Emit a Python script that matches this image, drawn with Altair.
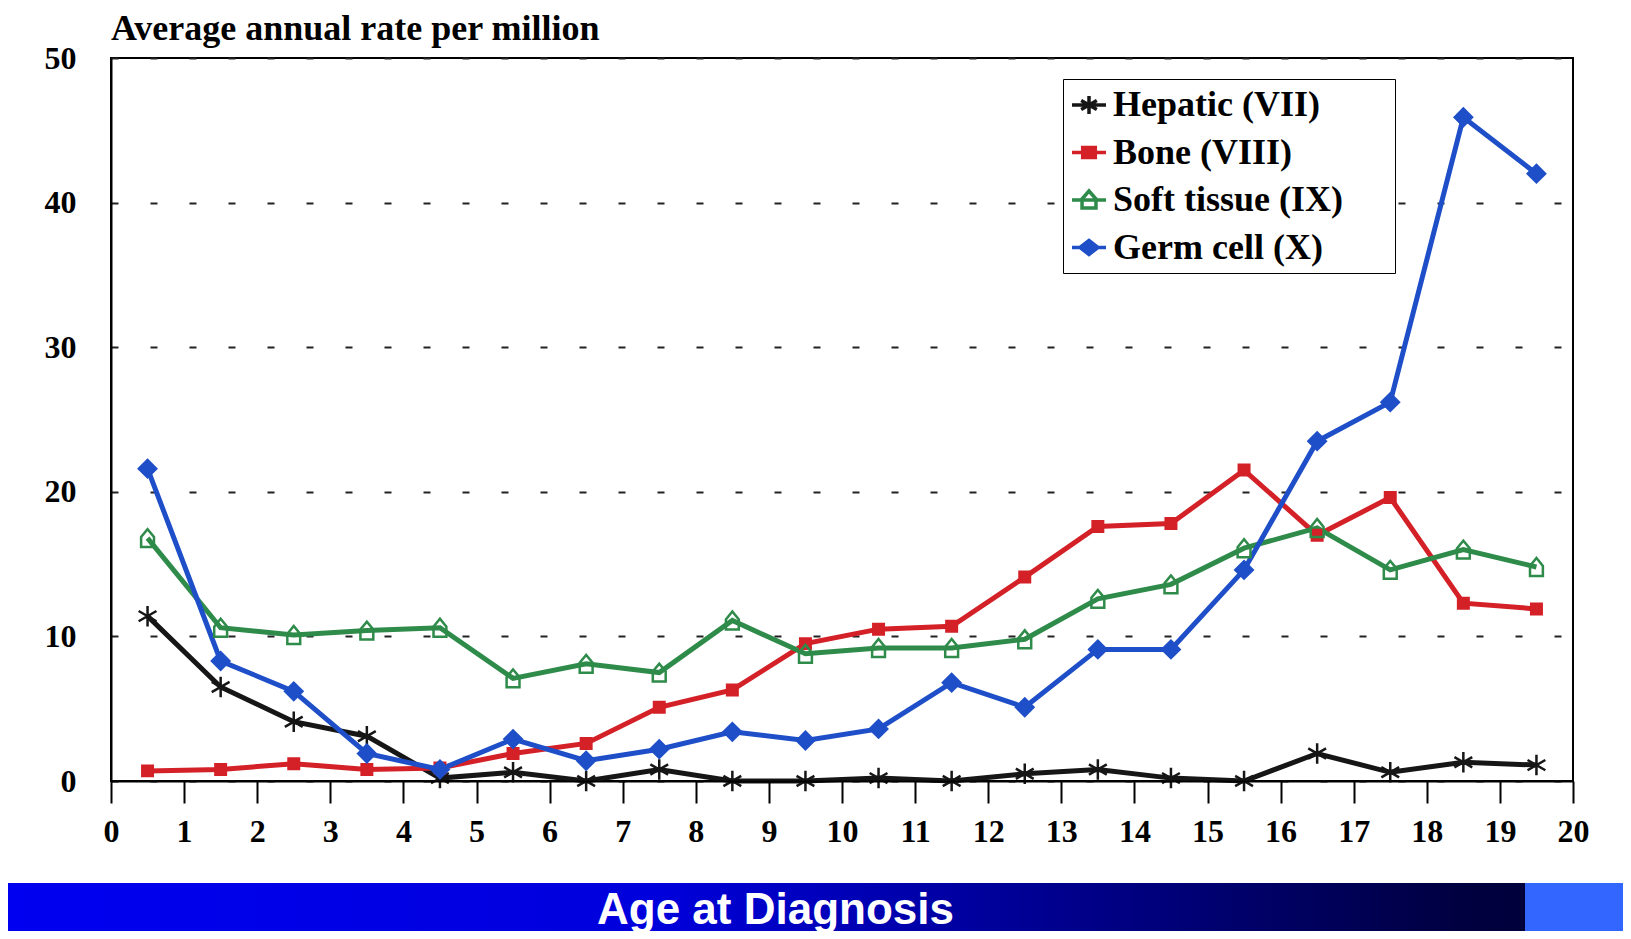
import altair as alt
import pandas as pd

# ---- data ----
ages = [0.5 + i for i in range(20)]
series_names = ["Hepatic (VII)", "Bone (VIII)", "Soft tissue (IX)", "Germ cell (X)"]
hepatic = [11.4, 6.5, 4.1, 3.1, 0.2, 0.6, 0.0, 0.8, 0.0, 0.0, 0.2, 0.0, 0.5, 0.8, 0.2, 0.0, 1.9, 0.6, 1.3, 1.1]
bone = [0.7, 0.8, 1.2, 0.8, 0.9, 1.9, 2.6, 5.1, 6.3, 9.5, 10.5, 10.7, 14.1, 17.6, 17.8, 21.5, 17.0, 19.6, 12.3, 11.9]
soft = [16.8, 10.6, 10.1, 10.4, 10.6, 7.1, 8.1, 7.5, 11.1, 8.8, 9.2, 9.2, 9.8, 12.6, 13.6, 16.1, 17.5, 14.6, 16.0, 14.8]
germ = [21.6, 8.3, 6.2, 1.9, 0.8, 2.9, 1.4, 2.2, 3.4, 2.8, 3.6, 6.8, 5.1, 9.1, 9.1, 14.6, 23.5, 26.2, 45.9, 42.0]
x_ticks = list(range(0, 21))
y_ticks = [0, 10, 20, 30, 40, 50]

colors = ["#161616", "#d42027", "#2e8b4a", "#1f4fc8"]
fills = ["transparent", "#d42027", "transparent", "#1f4fc8"]
# plot markers
ASTER = "M0,-1L0,1M-0.87,-0.5L0.87,0.5M-0.87,0.5L0.87,-0.5"
HOUSE = "M-0.72,1L0.72,1L0.72,-0.12L0,-1L-0.72,-0.12Z"
shapes = [ASTER, "square", HOUSE, "diamond"]
sizes = [420, 110, 320, 300]
# legend symbols: short line segment with the marker on it
LINE = "M-1,0L1,0"
legend_shapes = [
    LINE + "M0,-0.53L0,0.53M-0.46,-0.265L0.46,0.265M-0.46,0.265L0.46,-0.265",
    LINE + "M-0.37,-0.3L0.37,-0.3L0.37,0.3L-0.37,0.3Z",
    LINE + "M-0.41,0.47L0.41,0.47L0.41,-0.06L0,-0.53L-0.41,-0.06Z",
    LINE + "M-0.53,0L0,-0.41L0.53,0L0,0.41Z",
]

rows = []
for k, (name, vals) in enumerate(zip(series_names, [hepatic, bone, soft, germ])):
    for a, v in zip(ages, vals):
        rows.append({"age": a, "rate": v, "series": name, "order": k})
df = pd.DataFrame(rows)

W, H = 1462, 723
PL, PT, PR, PB = 103, 50, 50, 150
SERIF = "Liberation Serif"
LEG_X, LEG_Y = 952, 21

x_enc = alt.X(
    "age:Q",
    scale=alt.Scale(domain=[0, 20], nice=False, zero=False),
    axis=alt.Axis(
        values=x_ticks, format="d", grid=False, labelFlush=False, zindex=1,
        labelFont=SERIF, labelFontSize=32, labelFontWeight="bold", labelColor="black",
        labelPadding=13, tickSize=22, tickWidth=2, tickColor="black",
        domainColor="black", domainWidth=2,
        title="Age at Diagnosis", titleColor="white",
        titleFont="Liberation Sans", titleFontSize=44, titleFontWeight="bold",
        titleX=664, titleY=142, titleAlign="center", titleBaseline="alphabetic",
    ),
)
y_enc = alt.Y(
    "rate:Q",
    scale=alt.Scale(domain=[0, 50], nice=False),
    axis=alt.Axis(
        values=y_ticks, format="d", title=None, labelFlush=False,
        labelFont=SERIF, labelFontSize=32, labelFontWeight="bold", labelColor="black",
        labelPadding=35, ticks=False, tickSize=0,
        domainColor="black", domainWidth=2,
        grid=True, gridDash=[7, 32], gridColor="#222222", gridWidth=2,
    ),
)

base = alt.Chart(df)
order_sort = alt.EncodingSortField(field="order", op="min")

lines = base.mark_line(strokeWidth=5).encode(
    x=x_enc,
    y=y_enc,
    color=alt.Color("series:N", sort=order_sort, scale=alt.Scale(range=colors), legend=None),
)

# visible markers, one layer per series
marker_layers = []
for name, shp, col, fil, sz in zip(series_names, shapes, colors, fills, sizes):
    marker_layers.append(
        base.transform_filter(alt.datum.series == name)
        .mark_point(shape=shp, stroke=col, fill=fil, size=sz, strokeWidth=2.5, opacity=1)
        .encode(x=x_enc, y=y_enc)
    )

# legend carrier (transparent marks): provides the boxed legend with line+marker symbols
leg = alt.Legend(
    orient="none", legendX=LEG_X, legendY=LEG_Y,
    title="MM", titleOrient="right", titleColor="transparent",
    titleFontSize=25, titlePadding=3,
    symbolSize=1156, symbolStrokeWidth=3.5, symbolOpacity=1,
    labelFont=SERIF, labelFontSize=36, labelFontWeight="bold", labelColor="black",
    labelOffset=5, labelLimit=500, padding=7, rowPadding=10.5,
    strokeColor="black", fillColor="white",
)
legend_layer = base.mark_point(opacity=0).encode(
    x=x_enc,
    y=y_enc,
    shape=alt.Shape("series:N", scale=alt.Scale(domain=series_names, range=legend_shapes), legend=leg),
    stroke=alt.Stroke("series:N", scale=alt.Scale(domain=series_names, range=colors), legend=leg),
    fill=alt.Fill("series:N", scale=alt.Scale(domain=series_names, range=fills), legend=leg),
)

band_df = pd.DataFrame({"k": [0]})
grad = alt.Gradient(
    gradient="linear",
    stops=[
        alt.GradientStop(color="#0000f0", offset=0),
        alt.GradientStop(color="#0000dc", offset=0.4),
        alt.GradientStop(color="#000040", offset=0.9),
        alt.GradientStop(color="#000035", offset=1),
    ],
    x1=0, x2=1, y1=0, y2=0,
)
band = alt.Chart(band_df).mark_rect(color=grad).encode(
    x=alt.value(-PL), x2=alt.value(W + PR), y=alt.value(825), y2=alt.value(H + PB)
)
band2 = alt.Chart(band_df).mark_rect(color="#3366ff").encode(
    x=alt.value(1414), x2=alt.value(W + PR), y=alt.value(825), y2=alt.value(H + PB)
)

chart = (
    alt.layer(band, band2, lines, *marker_layers, legend_layer)
    .properties(
        width=W, height=H,
        padding={"left": PL, "top": PT, "right": PR, "bottom": PB},
        autosize=alt.AutoSizeParams(type="none"),
        background="white",
        title=alt.Title(
            "Average annual rate per million", anchor="start", frame="group", offset=-6,
            font=SERIF, fontSize=36, fontWeight="bold", color="black",
        ),
    )
    .configure_view(stroke="black", strokeWidth=2)
)

chart.save("out.html", embed_options={"renderer": "svg", "actions": False})
